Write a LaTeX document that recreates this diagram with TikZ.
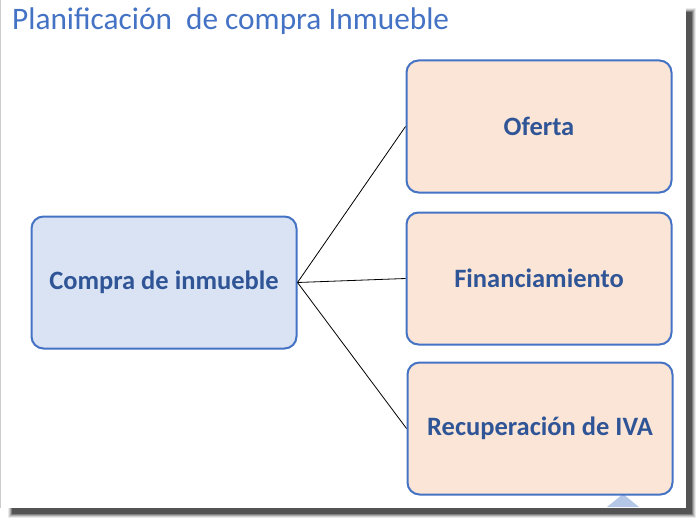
\documentclass[tikz,border=0pt]{standalone}
\usepackage{fontspec}
\setmainfont{Carlito}
\definecolor{boxline}{HTML}{4472C4}
\definecolor{bluefill}{HTML}{DAE3F3}
\definecolor{peachfill}{HTML}{FBE5D6}
\definecolor{txt}{HTML}{2F5597}
\definecolor{titlec}{HTML}{4472C4}
\definecolor{tri}{HTML}{B4C7E7}
\tikzset{
  box/.style={draw=boxline, line width=2pt, rounded corners=12pt,
    minimum width=265pt, minimum height=132pt, inner sep=0pt,
    font=\fontsize{26.5}{30}\selectfont\bfseries, text=txt},
  conn/.style={draw=black, line width=0.8pt}
}
\begin{document}
\begin{tikzpicture}[x=1pt,y=-1pt]
\useasboundingbox (0,0) rectangle (697,519);
% shadow
\foreach \o/\a in {0/0.08,1/0.12,2/0.18,3/0.25,4/0.35}{
  \fill[black, opacity=\a] (8+\o,8+\o) rectangle (696-\o,518-\o);
}
\fill[white] (0,0) rectangle (686,508);
\draw[gray!40, line width=0.5pt] (0.3,0) -- (0.3,508);
% small triangle at bottom
\fill[tri] (607,507) -- (623,494) -- (639,507) -- cycle;
% title
\node[anchor=base west, inner sep=0pt, text=titlec, font=\fontsize{31.3}{36}\selectfont] (title) at (12,30) {Planificación\ \ de compra Inmueble};
% boxes
\node[box, fill=bluefill] (main) at (164,282.5) {Compra de inmueble};
\node[box, fill=peachfill] (of) at (539,126.5) {Oferta};
\node[box, fill=peachfill] (fin) at (539,278.5) {Financiamiento};
\node[box, fill=peachfill] (iva) at (540,428.5) {Recuperación de IVA};
% connectors
\draw[conn] (main.east) -- (of.west);
\draw[conn] (main.east) -- (fin.west);
\draw[conn] (main.east) -- (iva.west);
\end{tikzpicture}
\end{document}
